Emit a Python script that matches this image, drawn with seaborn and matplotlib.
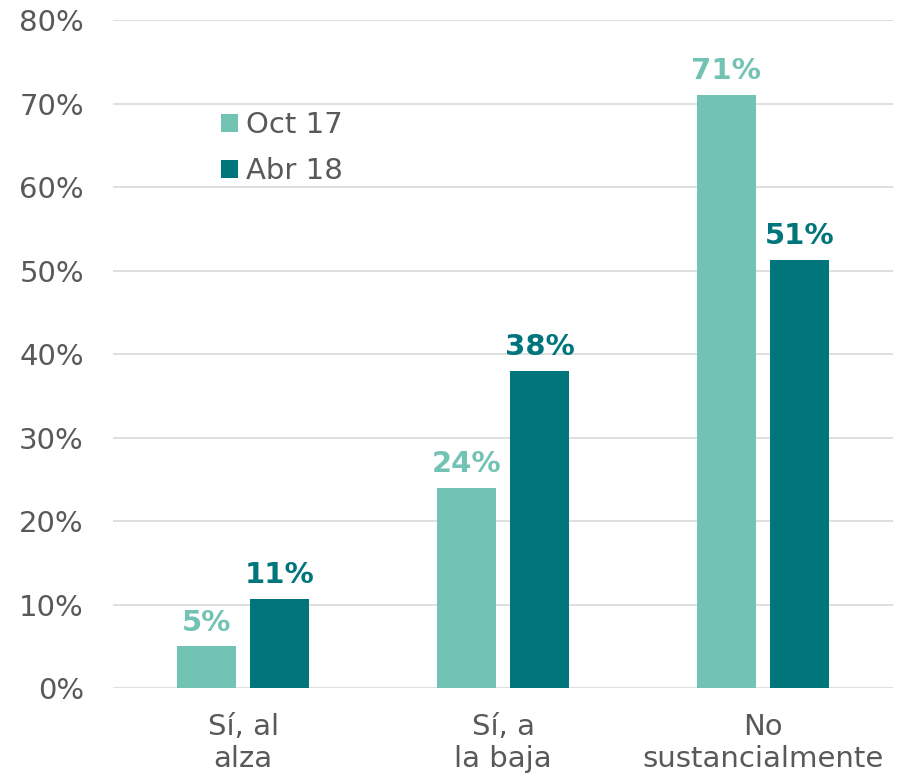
import matplotlib
matplotlib.use("Agg")
import matplotlib.pyplot as plt
import seaborn as sns
import pandas as pd
from matplotlib.ticker import PercentFormatter

categories = ["Sí, al\nalza", "Sí, a\nla baja", "No\nsustancialmente"]
series_names = ["Oct 17", "Abr 18"]
oct17 = [5.0, 24.0, 71.0]
abr18 = [10.7, 38.0, 51.3]
colors = ["#72C3B4", "#00767C"]

df = pd.DataFrame({
    "cat": categories * 2,
    "serie": [series_names[0]] * 3 + [series_names[1]] * 3,
    "val": oct17 + abr18,
})

sns.set_theme(style="white")
plt.rcParams["font.family"] = ["DejaVu Sans"]

fig = plt.figure(figsize=(8.98, 7.77), dpi=100)
ax = fig.add_axes([0.126, 0.1145, 0.8686, 0.8597])

sns.barplot(data=df, x="cat", y="val", hue="serie", palette=colors,
            width=0.565, gap=0.2, ax=ax, saturation=1, errorbar=None,
            linewidth=0)

ax.set_ylim(0, 80)
ax.set_xlim(-0.5, 2.5)
ax.set_yticks(range(0, 81, 10))
ax.yaxis.set_major_formatter(PercentFormatter(decimals=0))
ax.grid(axis="y", color="#D9D9D9", linewidth=1.2)
ax.set_axisbelow(True)
for s in ax.spines.values():
    s.set_visible(False)
ax.set_xlabel("")
ax.set_ylabel("")
ax.tick_params(axis="y", length=0, pad=21, labelsize=21, labelcolor="#595959")
ax.tick_params(axis="x", length=0, pad=18, labelsize=21, labelcolor="#595959")

for cont, col in zip(ax.containers, colors):
    ax.bar_label(cont, labels=[f"{round(v.get_height()):.0f}%" for v in cont],
                 padding=7, color=col, fontsize=21, fontweight="bold")

leg = ax.legend(loc="upper left", bbox_to_anchor=(0.138, 0.864), frameon=False,
                fontsize=21, handlelength=0.58, handleheight=0.58,
                handletextpad=0.28, labelspacing=0.62, borderpad=0, borderaxespad=0)
for t in leg.get_texts():
    t.set_color("#595959")

fig.savefig("out.png", dpi=100)
